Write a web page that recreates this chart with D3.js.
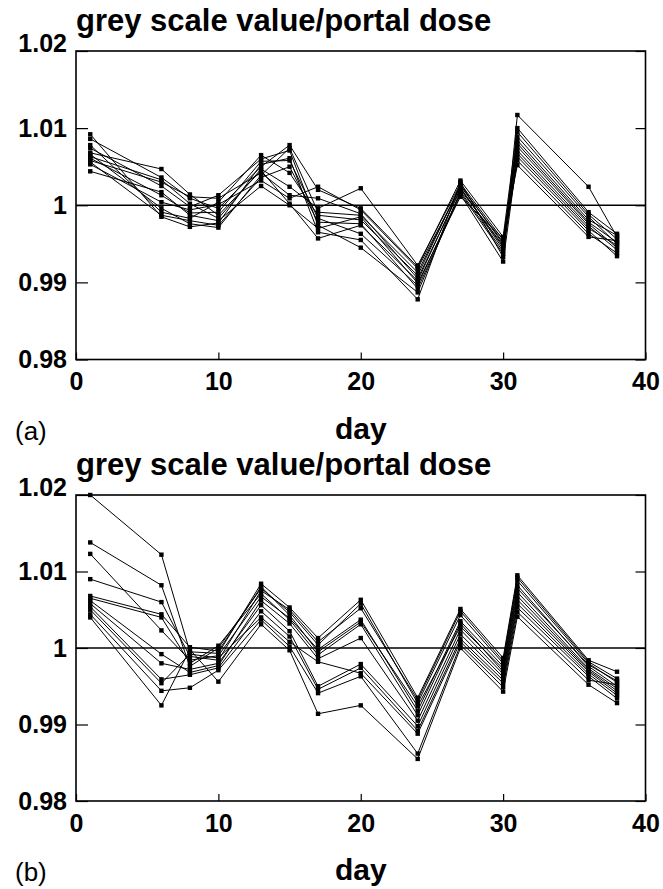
<!DOCTYPE html>
<html><head><meta charset="utf-8">
<script src="https://cdn.jsdelivr.net/npm/d3@7"></script>
<style>
body{margin:0;background:#fff;}
svg{display:block;}
text{font-family:"Liberation Sans",Arial,Helvetica,sans-serif;fill:#000;}
</style></head>
<body>
<svg id="chart" width="663" height="889"></svg>
<script>
// ---- data ----
const days = [1, 6, 8, 10, 13, 15, 17, 20, 24, 27, 30, 31, 36, 38];
const xTicks = [0, 10, 20, 30, 40];
const yTicks = [0.98, 0.99, 1.00, 1.01, 1.02];
const yTickLabels = ["0.98", "0.99", "1", "1.01", "1.02"];
const titleText = "grey scale value/portal dose";
const xLabel = "day";
const panelLabels = ["(a)", "(b)"];

const seriesA = [
  [1.0092, 0.9985, 0.9972, 0.9977, 1.0053, 1.0061, 0.9965, 0.9955, 0.9878, 1.0030, 0.9933, 1.0117, 1.0024, 0.9959],
  [1.0086, 1.0036, 1.0009, 0.9996, 1.0050, 1.0078, 1.0020, 0.9996, 0.9920, 1.0032, 0.9959, 1.0100, 0.9991, 0.9963],
  [1.0078, 0.9991, 0.9983, 1.0004, 1.0065, 1.0042, 0.9987, 0.9981, 0.9909, 1.0026, 0.9950, 1.0089, 0.9985, 0.9950],
  [1.0074, 1.0025, 0.9998, 1.0013, 1.0060, 1.0071, 0.9974, 0.9945, 0.9887, 1.0018, 0.9940, 1.0095, 0.9988, 0.9956],
  [1.0068, 1.0047, 1.0014, 0.9987, 1.0045, 1.0002, 0.9957, 0.9974, 0.9902, 1.0022, 0.9946, 1.0084, 0.9981, 0.9961],
  [1.0066, 0.9996, 0.9976, 0.9971, 1.0039, 1.0074, 0.9991, 0.9987, 0.9913, 1.0025, 0.9952, 1.0076, 0.9976, 0.9945],
  [1.0063, 1.0033, 1.0002, 0.9983, 1.0047, 1.0024, 0.9996, 1.0022, 0.9922, 1.0028, 0.9955, 1.0080, 0.9978, 0.9952],
  [1.0061, 1.0013, 0.9990, 0.9991, 1.0057, 1.0058, 0.9983, 0.9963, 0.9896, 1.0016, 0.9937, 1.0071, 0.9973, 0.9942],
  [1.0058, 1.0030, 1.0011, 1.0009, 1.0042, 1.0013, 1.0009, 0.9989, 0.9905, 1.0020, 0.9948, 1.0067, 0.9970, 0.9948],
  [1.0056, 0.9987, 0.9980, 0.9974, 1.0036, 1.0050, 0.9978, 0.9976, 0.9892, 1.0014, 0.9927, 1.0063, 0.9967, 0.9934],
  [1.0053, 1.0004, 0.9994, 1.0001, 1.0032, 1.0009, 1.0024, 0.9994, 0.9918, 1.0023, 0.9943, 1.0058, 0.9963, 0.9938],
  [1.0044, 1.0017, 0.9987, 0.9980, 1.0025, 1.0000, 0.9970, 0.9985, 0.9899, 1.0011, 0.9957, 1.0052, 0.9959, 0.9954]
];

const seriesB = [
  [1.0200, 1.0122, 0.9995, 0.9993, 1.0084, 1.0053, 1.0013, 1.0063, 0.9935, 1.0051, 0.9987, 1.0095, 0.9984, 0.9969],
  [1.0138, 1.0082, 0.9976, 1.0000, 1.0078, 1.0047, 1.0004, 1.0058, 0.9928, 1.0043, 0.9980, 1.0088, 0.9980, 0.9955],
  [1.0123, 1.0023, 0.9984, 0.9990, 1.0067, 1.0039, 0.9998, 1.0037, 0.9918, 1.0035, 0.9976, 1.0082, 0.9976, 0.9950],
  [1.0090, 1.0060, 0.9989, 0.9984, 1.0075, 1.0050, 1.0008, 1.0052, 0.9932, 1.0048, 0.9983, 1.0092, 0.9982, 0.9960],
  [1.0068, 1.0044, 1.0001, 0.9996, 1.0080, 1.0043, 0.9995, 1.0034, 0.9924, 1.0028, 0.9973, 1.0078, 0.9978, 0.9957],
  [1.0065, 1.0040, 0.9980, 1.0003, 1.0071, 1.0037, 0.9991, 1.0031, 0.9912, 1.0032, 0.9969, 1.0073, 0.9973, 0.9947],
  [1.0062, 0.9992, 0.9968, 0.9977, 1.0062, 1.0032, 0.9986, 1.0013, 0.9905, 1.0024, 0.9966, 1.0068, 0.9971, 0.9944],
  [1.0058, 0.9980, 0.9972, 0.9980, 1.0056, 1.0022, 0.9950, 0.9979, 0.9898, 1.0018, 0.9962, 1.0063, 0.9969, 0.9941],
  [1.0054, 0.9959, 0.9965, 0.9974, 1.0048, 1.0015, 0.9946, 0.9974, 0.9892, 1.0012, 0.9958, 1.0058, 0.9966, 0.9938],
  [1.0050, 0.9954, 0.9992, 0.9987, 1.0040, 1.0008, 0.9982, 0.9967, 0.9888, 1.0008, 0.9954, 1.0053, 0.9963, 0.9934],
  [1.0044, 0.9944, 0.9948, 0.9971, 1.0037, 1.0002, 0.9941, 0.9963, 0.9862, 1.0004, 0.9949, 1.0047, 0.9958, 0.9952],
  [1.0040, 0.9925, 0.9998, 0.9956, 1.0031, 0.9997, 0.9914, 0.9925, 0.9855, 1.0000, 0.9943, 1.0041, 0.9952, 0.9928]
];

// ---- layout ----
const svg = d3.select("#chart");
const plotLeft = 76, plotRight = 645.5;
const panels = [
  { data: seriesA, top: 51, bottom: 359.5, label: panelLabels[0] },
  { data: seriesB, top: 495, bottom: 801, label: panelLabels[1] }
];

const x = d3.scaleLinear().domain([0, 40]).range([plotLeft, plotRight]);

panels.forEach(p => {
  const y = d3.scaleLinear().domain([0.98, 1.02]).range([p.bottom, p.top]);
  const g = svg.append("g");

  // title
  g.append("text").attr("x", plotLeft).attr("y", p.top - 20.5)
    .attr("font-size", 31).attr("font-weight", "bold").text(titleText);

  // reference line at 1
  g.append("line").attr("x1", x(0)).attr("x2", x(40))
    .attr("y1", y(1)).attr("y2", y(1))
    .attr("stroke", "#000").attr("stroke-width", 1.3);

  // series lines + markers
  const line = d3.line().x((d, i) => x(days[i])).y(d => y(d));
  p.data.forEach(s => {
    g.append("path").datum(s).attr("d", line)
      .attr("fill", "none").attr("stroke", "#000").attr("stroke-width", 1);
    g.selectAll(null).data(s).enter().append("rect")
      .attr("x", (d, i) => x(days[i]) - 2.2).attr("y", d => y(d) - 2.2)
      .attr("width", 4.4).attr("height", 4.4).attr("fill", "#000");
  });

  // axes
  const xAxis = g.append("g").attr("transform", `translate(0,${p.bottom})`)
    .call(d3.axisBottom(x).tickValues(xTicks).tickSize(-7).tickPadding(13).tickFormat(d3.format("d")));
  const yAxis = g.append("g").attr("transform", `translate(${plotLeft},0)`)
    .call(d3.axisLeft(y).tickValues(yTicks).tickSize(-12).tickPadding(9)
      .tickFormat((d, i) => yTickLabels[i]));
  const yAxisR = g.append("g").attr("transform", `translate(${plotRight},0)`)
    .call(d3.axisRight(y).tickValues(yTicks).tickSize(-10).tickFormat(""));

  [xAxis, yAxis, yAxisR].forEach(a => {
    a.select(".domain").remove();
    a.selectAll(".tick line").attr("stroke", "#000").attr("stroke-width", 1.2);
    a.selectAll(".tick text").attr("font-size", 25).attr("font-weight", "bold")
      .attr("font-family", "'Liberation Sans', Arial, sans-serif").attr("fill", "#000");
  });
  // top label sits on the frame
  yAxis.selectAll(".tick text").filter(d => d === 1.02).attr("dy", "0");

  // frame
  g.append("rect").attr("x", plotLeft).attr("y", p.top)
    .attr("width", plotRight - plotLeft).attr("height", p.bottom - p.top)
    .attr("fill", "none").attr("stroke", "#000").attr("stroke-width", 1.6);

  // x label
  g.append("text").attr("x", (plotLeft + plotRight) / 2).attr("y", p.bottom + 79)
    .attr("text-anchor", "middle").attr("font-size", 30).attr("font-weight", "bold").text(xLabel);
  // panel label
  g.append("text").attr("x", 15).attr("y", p.bottom + 80)
    .attr("font-size", 26).text(p.label);
});
</script>
</body></html>
